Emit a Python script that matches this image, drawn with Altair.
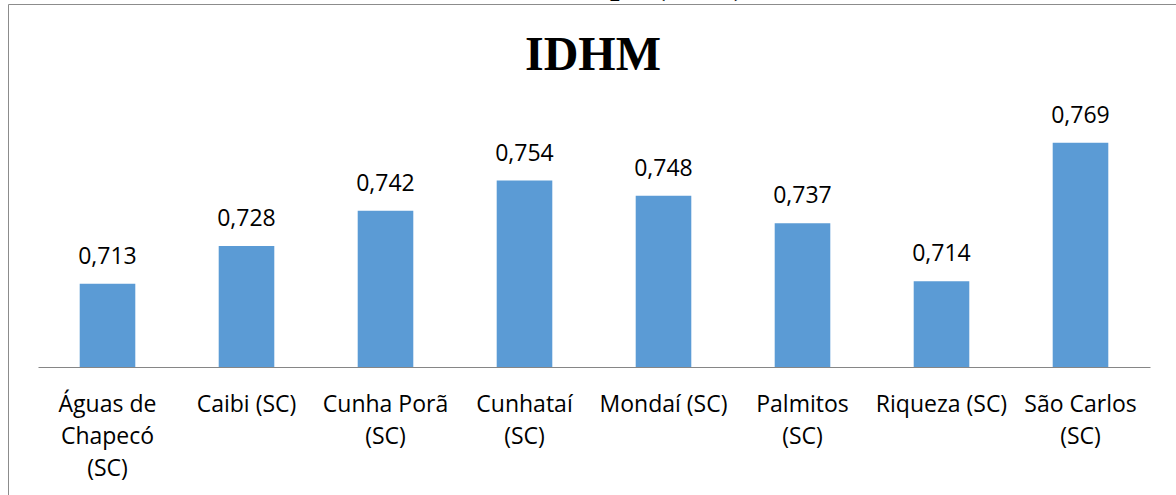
import altair as alt
import pandas as pd

categories = [
    "Águas de\nChapecó\n(SC)",
    "Caibi (SC)",
    "Cunha Porã\n(SC)",
    "Cunhataí\n(SC)",
    "Mondaí (SC)",
    "Palmitos\n(SC)",
    "Riqueza (SC)",
    "São Carlos\n(SC)",
]
values = [0.713, 0.728, 0.742, 0.754, 0.748, 0.737, 0.714, 0.769]
title_text = "IDHM"
cut_text = "Grupo (2010)"

df = pd.DataFrame({"cat": categories, "value": values})

W, H = 1112, 252
PAD = {"left": 38, "top": 115, "right": 26, "bottom": 128}

x_enc = alt.X(
    "cat:N",
    sort=categories,
    scale=alt.Scale(paddingInner=0.6, paddingOuter=0.3),
    axis=alt.Axis(
        title=None,
        labelAngle=0,
        ticks=False,
        domainColor="#868686",
        domainWidth=1,
        labelFont="Open Sans",
        labelFontSize=23,
        labelColor="#000000",
        labelPadding=26,
        labelLineHeight=32,
        labelExpr="split(datum.label, '\\n')",
    ),
)
y_scale = alt.Scale(domain=[0.68, 0.78])

base = alt.Chart(df)

bars = base.mark_bar(color="#5B9BD5").encode(
    x=x_enc,
    y=alt.Y("value:Q", scale=y_scale, axis=None),
    y2=alt.datum(0.68),
)

labels = base.transform_calculate(
    lbl="replace(format(datum.value, '.3f'), '.', ',')"
).mark_text(
    font="Open Sans", fontSize=23, color="#000000", baseline="alphabetic", dy=-20
).encode(
    x=alt.X("cat:N", sort=categories),
    y=alt.Y("value:Q", scale=y_scale),
    text="lbl:N",
)

one = alt.Chart(pd.DataFrame({"a": [0]}))

border = one.mark_rect(fill=None, stroke="#8c8c8c", strokeWidth=1).encode(
    x=alt.value(-29.5), x2=alt.value(1200), y=alt.value(-110.5), y2=alt.value(500)
)

title = one.mark_text(
    text=title_text,
    font="Liberation Serif",
    fontSize=48,
    fontWeight="bold",
    color="#000000",
    baseline="alphabetic",
    align="center",
).encode(x=alt.value(555), y=alt.value(-45))

cut = one.mark_text(
    text=cut_text,
    font="Liberation Serif",
    fontSize=34,
    fontWeight="bold",
    color="#000000",
    baseline="alphabetic",
    align="right",
).encode(x=alt.value(707), y=alt.value(-121))

chart = (
    alt.layer(border, bars, labels, title, cut)
    .properties(
        width=W,
        height=H,
        padding=PAD,
        autosize=alt.AutoSizeParams(type="none"),
        background="#ffffff",
    )
    .configure_view(stroke=None)
)

chart.save("out.html", embed_options={"renderer": "svg", "actions": False})
